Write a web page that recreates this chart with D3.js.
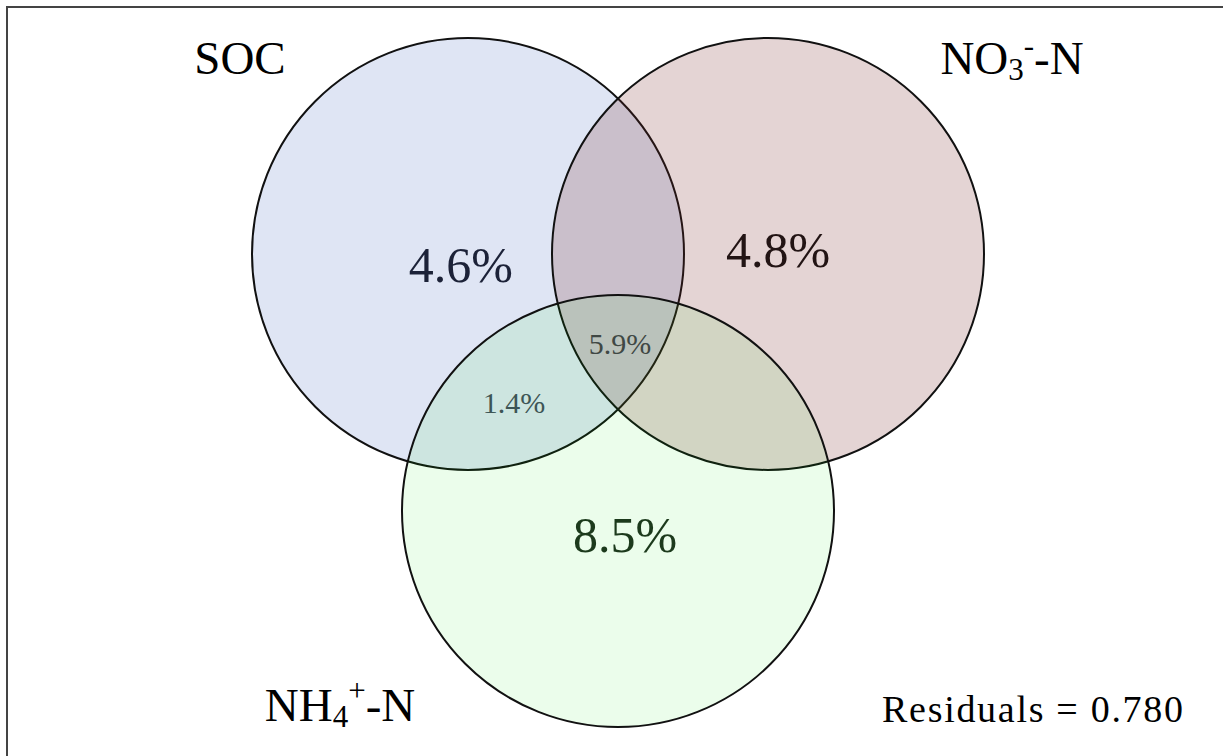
<!DOCTYPE html>
<html lang="en">
<head>
<meta charset="utf-8">
<title>venn</title>
<style>
html,body {margin:0; padding:0; background:#fff;}
svg {display:block;}
text {font-family:"Times New Roman","Liberation Serif",Tinos,serif;}
</style>
</head>
<body>
<script src="https://d3js.org/d3.v7.min.js"></script>
<script>
// sets (circle centres in venn units, y up)
var setNames = ['SOC', 'NO3-N', 'NH4+-N']
var setX = [-1.0, 1.0, 0.0]
var setY = [0.857, 0.857, -0.857]
var setR = [1.44, 1.44, 1.44]
var setColors = ['#4064be', '#782828', '#00e600']
var setAlpha = [0.17, 0.2, 0.08]

// region labels
var regionText = ['4.6%', '4.8%', '8.5%', '1.4%', '5.9%']
var regionX = [-1.047, 1.067, 0.047, -0.693, 0.013]
var regionY = [0.783, 0.883, -1.017, -0.13, 0.257]
var regionBig = [true, true, true, false, false]
var regionColors = ['#1c2238', '#221414', '#1c3a1c', '#3d5555', '#404844']

var residuals = 0.780

var W = 1223, H = 756
var svg = d3.select('body').append('svg').attr('width', W).attr('height', H)

var x = d3.scaleLinear().domain([-1, 1]).range([468, 768])
var y = d3.scaleLinear().domain([-1, 1]).range([532.5, 232.5])
var rs = function(v) { return x(v) - x(0) }

// frame
svg.append('rect').attr('x', 7).attr('y', 7).attr('width', W + 20).attr('height', H + 20)
   .attr('fill', 'none').attr('stroke', '#444').attr('stroke-width', 2)

var circles = setNames.map(function(n, i) { return {name:n, x:setX[i], y:setY[i], r:setR[i], c:setColors[i], a:setAlpha[i]} })

svg.append('g').selectAll('circle').data(circles).join('circle')
   .attr('cx', function(d) { return x(d.x) })
   .attr('cy', function(d) { return y(d.y) })
   .attr('r', function(d) { return rs(d.r) })
   .attr('fill', function(d) { return d.c })
   .attr('fill-opacity', function(d) { return d.a })
   .attr('stroke', '#111')
   .attr('stroke-width', 2)

// region percentages
var regions = regionText.map(function(t, i) { return {t:t, x:regionX[i], y:regionY[i], big:regionBig[i], c:regionColors[i]} })
svg.append('g').selectAll('text').data(regions).join('text')
   .attr('x', function(d) { return x(d.x) })
   .attr('y', function(d) { return y(d.y) })
   .attr('text-anchor', 'middle')
   .attr('dominant-baseline', 'central')
   .attr('font-size', function(d) { return d.big ? 50 : 30 })
   .attr('fill', function(d) { return d.c })
   .text(function(d) { return d.t })

// set labels
var lab = svg.append('g').attr('font-size', 47).attr('fill', '#000')
lab.append('text').attr('x', x(-2.52)).attr('y', y(2.163)).attr('text-anchor', 'middle')
   .attr('dominant-baseline', 'central').text('SOC')

var t2 = lab.append('text').attr('x', x(2.627)).attr('y', y(2.163)).attr('text-anchor', 'middle')
   .attr('dominant-baseline', 'central')
t2.append('tspan').text('NO')
t2.append('tspan').attr('font-size', 31).attr('dy', 11).text('3')
t2.append('tspan').attr('font-size', 31).attr('dy', -24).text('-')
t2.append('tspan').attr('dy', 13).text('-N')

var t3 = lab.append('text').attr('x', x(-1.853)).attr('y', y(-2.15)).attr('text-anchor', 'middle')
   .attr('dominant-baseline', 'central')
t3.append('tspan').text('NH')
t3.append('tspan').attr('font-size', 31).attr('dy', 11).text('4')
t3.append('tspan').attr('font-size', 31).attr('dy', -26).text('+')
t3.append('tspan').attr('dy', 15).text('-N')

svg.append('text').attr('x', 1183).attr('y', 722).attr('text-anchor', 'end')
   .attr('font-size', 38).attr('textLength', 301).attr('lengthAdjust', 'spacing')
   .text('Residuals = ' + residuals.toFixed(3))
</script>
</body>
</html>
